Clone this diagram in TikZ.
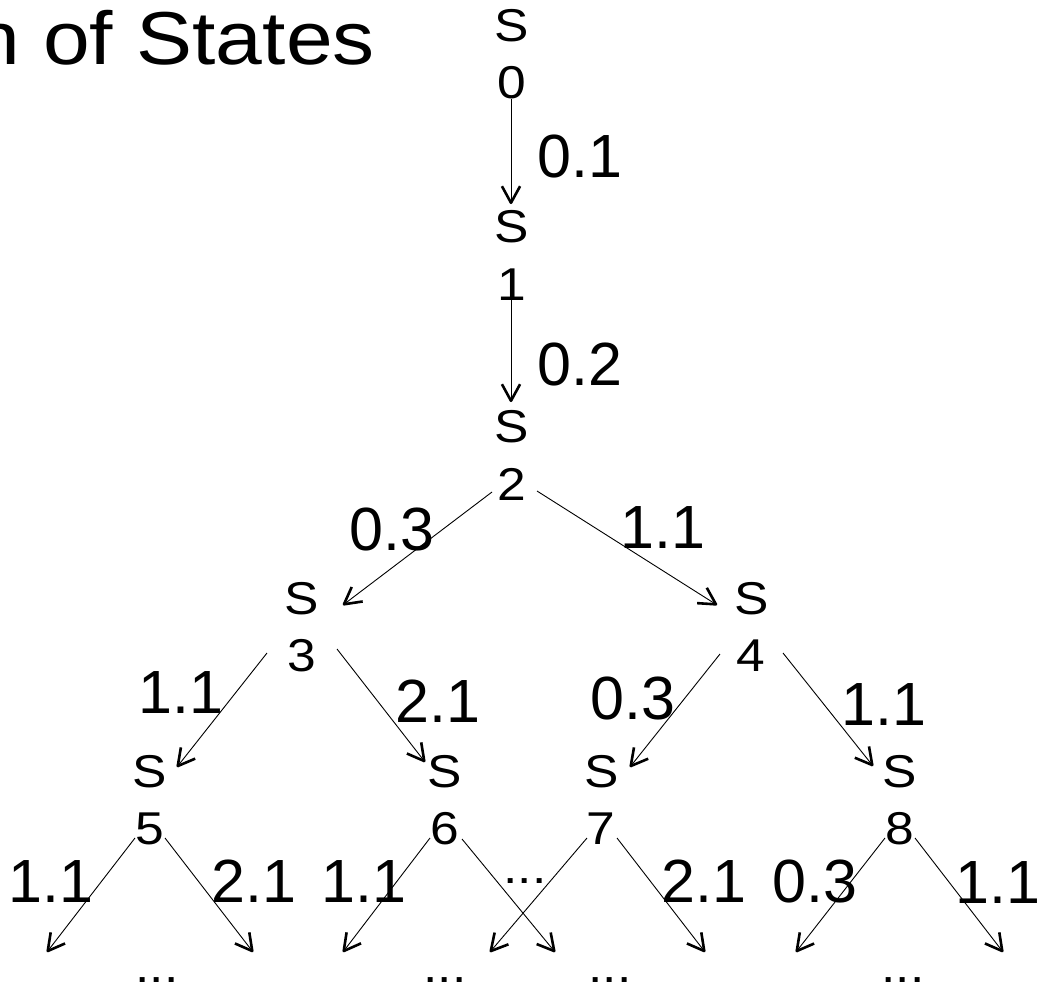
\documentclass[tikz,border=0pt]{standalone}
\usepackage{fontspec}
\usetikzlibrary{calc}
\newfontfamily\nodefont[FakeStretch=1.12]{Liberation Sans}
\newfontfamily\titlefont[FakeStretch=1.12]{Liberation Sans}
\newfontfamily\labfont{Liberation Sans}
\tikzset{
  st/.style={font=\nodefont\fontsize{46}{54}\selectfont, inner sep=0pt, anchor=base},
  lab/.style={font=\labfont\fontsize{61}{70}\selectfont, inner sep=0pt, anchor=base west},
  edge/.style={line width=0.9pt},
  barb/.style={line width=2.6pt, line join=round, line cap=butt},
}
\newcommand{\myedge}[2]{%
  \draw[edge] (#1) -- ($(#2)!1.5pt!(#1)$);
  \draw[barb] ($(#2)!20pt!27:(#1)$) -- ($(#2)!1.2pt!(#1)$) -- ($(#2)!20pt!-27:(#1)$);}
\begin{document}
\begin{tikzpicture}[x=1pt,y=-1pt]
\useasboundingbox (0,0) rectangle (1045,985);
% title
\node[font=\titlefont\fontsize{75}{80}\selectfont, inner sep=0pt, anchor=base east] (title) at (375,64) {n of States};
% states
\node[st] (s0) at (512,41) {S};  \node[st] (d0) at (512,98) {0};
\node[st] (s1) at (512,242) {S}; \node[st] (d1) at (512,300) {1};
\node[st] (s2) at (512,442) {S}; \node[st] (d2) at (512,500) {2};
\node[st] (s3) at (302,614) {S}; \node[st] (d3) at (302,671) {3};
\node[st] (s4) at (752,614) {S}; \node[st] (d4) at (751,671) {4};
\node[st] (s5) at (150,787) {S}; \node[st] (d5) at (150,844) {5};
\node[st] (s6) at (445,787) {S}; \node[st] (d6) at (445,844) {6};
\node[st] (s7) at (602,787) {S}; \node[st] (d7) at (601,844) {7};
\node[st] (s8) at (900,787) {S}; \node[st] (d8) at (900,844) {8};
% dots
\node[st] (m67) at (525,883) {...};
\node[st] (b5) at (157,982) {...};
\node[st] (b6) at (445,982) {...};
\node[st] (b7) at (610,982) {...};
\node[st] (b8) at (903,982) {...};
% connector ends
\coordinate (a01) at ([shift={(-1,1)}]d0.base);   \coordinate (e01) at ([shift={(-1,-38)}]s1.base);
\coordinate (a12) at ([shift={(-1,0)}]d1.base);   \coordinate (e12) at ([shift={(-1,-40)}]s2.base);
\coordinate (a23) at ([shift={(-20,-8)}]d2.base); \coordinate (e23) at ([shift={(41,-9)}]s3.base);
\coordinate (a24) at ([shift={(25,-9)}]d2.base);  \coordinate (e24) at ([shift={(-35,-9)}]s4.base);
\coordinate (a35) at ([shift={(-35,-18)}]d3.base); \coordinate (e35) at ([shift={(27,-20)}]s5.base);
\coordinate (a36) at ([shift={(35,-22)}]d3.base); \coordinate (e36) at ([shift={(-20,-25)}]s6.base);
\coordinate (a47) at ([shift={(-31,-17)}]d4.base); \coordinate (e47) at ([shift={(28,-20)}]s7.base);
\coordinate (a48) at ([shift={(32,-18)}]d4.base); \coordinate (e48) at ([shift={(-27,-21)}]s8.base);
\coordinate (a5a) at ([shift={(-15,-6)}]d5.base); \coordinate (t5a) at (47,952);
\coordinate (a5b) at ([shift={(15,-6)}]d5.base);  \coordinate (t5b) at (253,952);
\coordinate (a6c) at ([shift={(-15,-6)}]d6.base); \coordinate (t6c) at (343,952);
\coordinate (a6d) at ([shift={(17,-5)}]d6.base);  \coordinate (t6d) at (555,952);
\coordinate (a7e) at ([shift={(-14,-6)}]d7.base); \coordinate (t7e) at (490,952);
\coordinate (a7f) at ([shift={(16,-6)}]d7.base);  \coordinate (t7f) at (705,952);
\coordinate (a8g) at ([shift={(-15,-6)}]d8.base); \coordinate (t8g) at (796,952);
\coordinate (a8h) at ([shift={(15,-6)}]d8.base);  \coordinate (t8h) at (1003,952);
% edges
\myedge{a01}{e01}
\myedge{a12}{e12}
\myedge{a23}{e23}
\myedge{a24}{e24}
\myedge{a35}{e35}
\myedge{a36}{e36}
\myedge{a47}{e47}
\myedge{a48}{e48}
\myedge{a5a}{t5a}
\myedge{a5b}{t5b}
\myedge{a6c}{t6c}
\myedge{a6d}{t6d}
\myedge{a7e}{t7e}
\myedge{a7f}{t7f}
\myedge{a8g}{t8g}
\myedge{a8h}{t8h}
% edge labels
\node[lab] (l01) at (537,177) {0.1};
\node[lab] (l12) at (537,385) {0.2};
\node[lab] (l23) at (349,550) {0.3};
\node[lab] (l24) at (620,548) {1.1};
\node[lab] (l35) at (138,713) {1.1};
\node[lab] (l36) at (395,722) {2.1};
\node[lab] (l47) at (590,719) {0.3};
\node[lab] (l48) at (841,725) {1.1};
\node[lab] (l5a) at (8,902) {1.1};
\node[lab] (l5b) at (211,902) {2.1};
\node[lab] (l6c) at (321,902) {1.1};
\node[lab] (l7f) at (661,902) {2.1};
\node[lab] (l8g) at (772,902) {0.3};
\node[lab] (l8h) at (955,903) {1.1};
\end{tikzpicture}
\end{document}
